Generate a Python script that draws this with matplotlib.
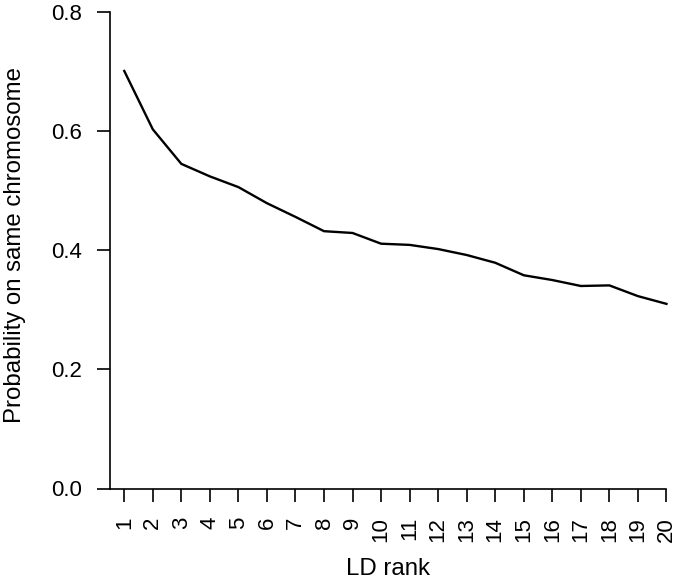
import numpy as np
import matplotlib
matplotlib.use("Agg")
from matplotlib import pyplot as plt

plt.rcParams['font.family'] = ['Liberation Sans', 'DejaVu Sans']

# LD rank vs probability that the pair is on the same chromosome
ld_rank = np.arange(1, 21)
prob_same = [0.701, 0.603, 0.545, 0.524, 0.506, 0.479, 0.456, 0.432, 0.429, 0.411,
             0.409, 0.402, 0.392, 0.379, 0.358, 0.350, 0.340, 0.341, 0.323, 0.310]
y_ticks = [0.0, 0.2, 0.4, 0.6, 0.8]
y_ticklabels = ["0.0", "0.2", "0.4", "0.6", "0.8"]

fig = plt.figure(figsize=(6.78, 5.81), dpi=100)
ax = fig.add_axes([110/678, 92.5/581, 565/678, 476.5/581])

ax.plot(ld_rank, prob_same, color='black', lw=1.7)

ax.set_xlim(0.5, 20.3)
ax.set_ylim(0, 0.8)

# base-R look: only left and bottom axes, ticks pointing out
for s in ['top', 'right']:
    ax.spines[s].set_visible(False)
ax.spines['left'].set_bounds(0, 0.8)
ax.spines['bottom'].set_bounds(0.5, 20)
ax.spines['left'].set_linewidth(1.2)
ax.spines['bottom'].set_linewidth(1.2)

ax.set_xticks(ld_rank)
ax.set_xticklabels([str(i) for i in ld_rank], rotation=90)
ax.set_yticks(y_ticks)
ax.set_yticklabels(y_ticklabels)
ax.tick_params(axis='both', direction='out', length=9.5, width=1.2,
               labelsize=16, pad=11)

ax.set_xlabel("LD rank", fontsize=17.3)
ax.set_ylabel("Probability on same chromosome", fontsize=17.3)
ax.xaxis.set_label_coords((388 - 110) / 565, -(575 - 488.5) / 476.5)
ax.yaxis.set_label_coords(-(110 - 15) / 565, (488.5 - 245) / 476.5)
ax.xaxis.label.set_va('baseline')
ax.yaxis.label.set_va('center')

fig.savefig("out.png", dpi=100)
